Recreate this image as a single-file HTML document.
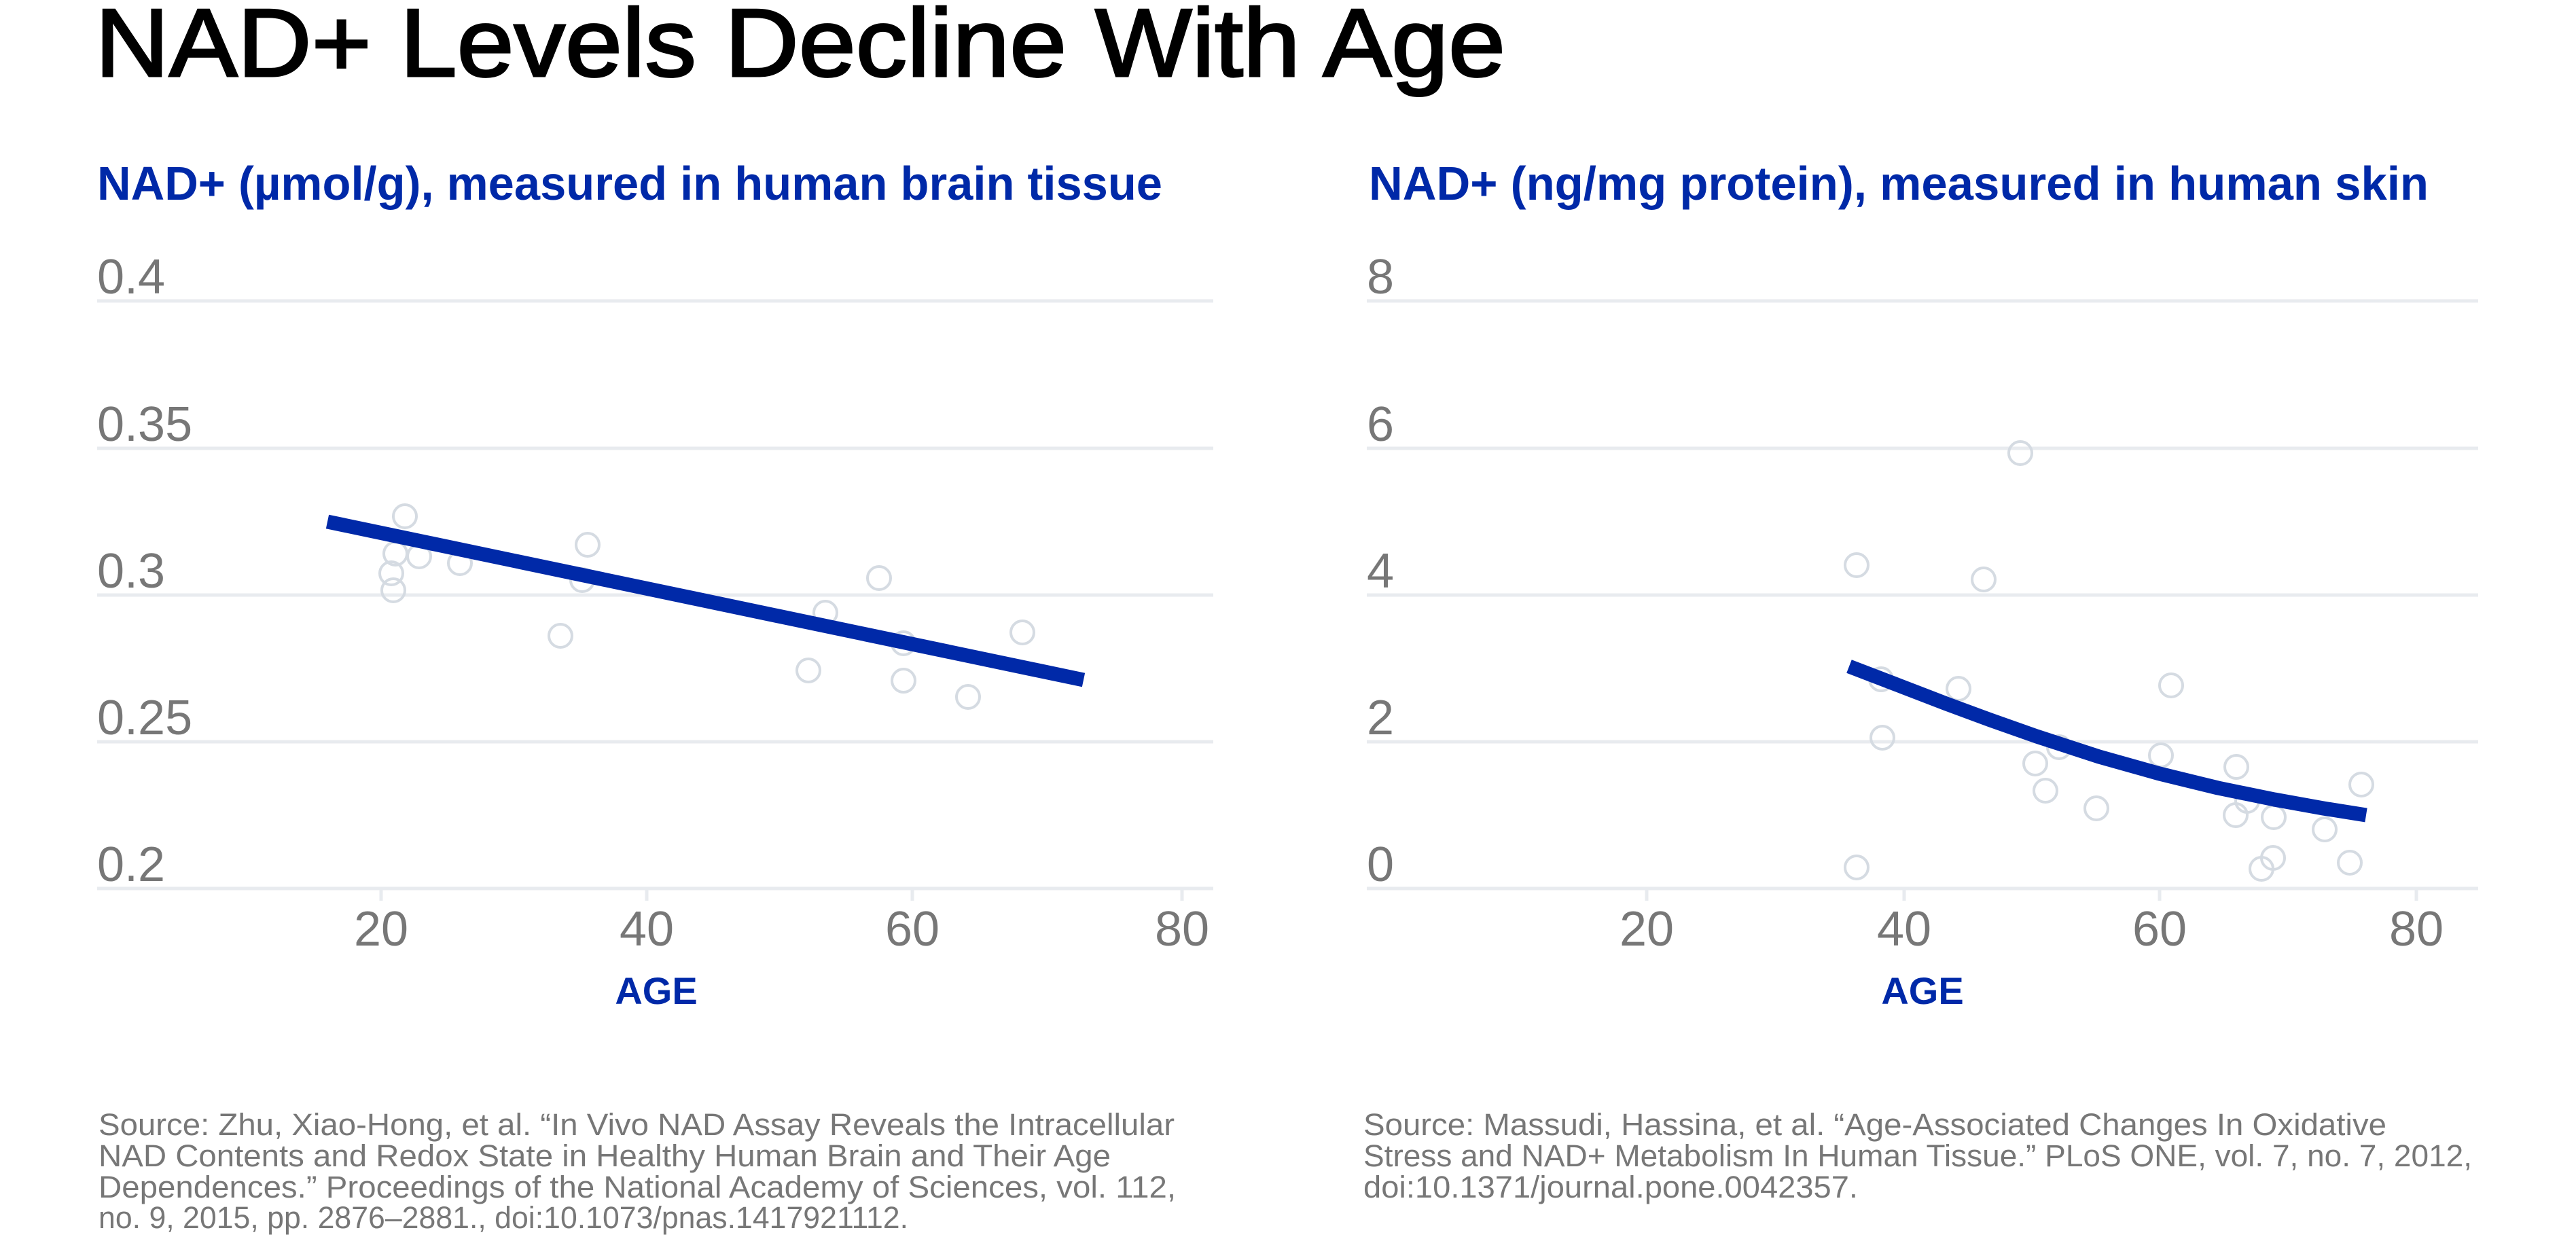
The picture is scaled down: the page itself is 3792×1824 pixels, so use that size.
<!DOCTYPE html>
<html><head><meta charset="utf-8"><style>html,body{margin:0;padding:0;background:#fff}svg{display:block}</style></head>
<body>
<svg width="3792" height="1824" viewBox="0 0 3792 1824" xmlns="http://www.w3.org/2000/svg" font-family="'Liberation Sans', sans-serif">
<rect width="3792" height="1824" fill="#fff"/>
<text x="140" y="112" font-size="142" fill="#000" stroke="#000" stroke-width="3" textLength="2076" lengthAdjust="spacingAndGlyphs">NAD+ Levels Decline With Age</text>
<text x="143" y="294" font-size="70" font-weight="bold" fill="#0029a8" textLength="1568" lengthAdjust="spacingAndGlyphs">NAD+ (µmol/g), measured in human brain tissue</text>
<text x="2015" y="294" font-size="70" font-weight="bold" fill="#0029a8" textLength="1560" lengthAdjust="spacingAndGlyphs">NAD+ (ng/mg protein), measured in human skin</text>
<g stroke="#e8ebef" stroke-width="5">
<line x1="143" x2="1786" y1="443" y2="443"/><line x1="143" x2="1786" y1="660" y2="660"/><line x1="143" x2="1786" y1="876" y2="876"/><line x1="143" x2="1786" y1="1092" y2="1092"/><line x1="143" x2="1786" y1="1308" y2="1308"/>
<line x1="2012" x2="3648" y1="443" y2="443"/><line x1="2012" x2="3648" y1="660" y2="660"/><line x1="2012" x2="3648" y1="876" y2="876"/><line x1="2012" x2="3648" y1="1092" y2="1092"/><line x1="2012" x2="3648" y1="1308" y2="1308"/>
<line x1="561" x2="561" y1="1308" y2="1326"/><line x1="952" x2="952" y1="1308" y2="1326"/><line x1="1343" x2="1343" y1="1308" y2="1326"/><line x1="1740" x2="1740" y1="1308" y2="1326"/>
<line x1="2424" x2="2424" y1="1308" y2="1326"/><line x1="2803" x2="2803" y1="1308" y2="1326"/><line x1="3179" x2="3179" y1="1308" y2="1326"/><line x1="3557" x2="3557" y1="1308" y2="1326"/>
</g>
<g font-size="72" fill="#777">
<text x="143" y="432">0.4</text><text x="143" y="649">0.35</text><text x="143" y="865">0.3</text><text x="143" y="1081">0.25</text><text x="143" y="1297">0.2</text>
<text x="2012" y="432">8</text><text x="2012" y="649">6</text><text x="2012" y="865">4</text><text x="2012" y="1081">2</text><text x="2012" y="1297">0</text>
<g text-anchor="middle">
<text x="561" y="1392">20</text><text x="952" y="1392">40</text><text x="1343" y="1392">60</text><text x="1740" y="1392">80</text>
<text x="2424" y="1392">20</text><text x="2803" y="1392">40</text><text x="3179" y="1392">60</text><text x="3557" y="1392">80</text>
</g></g>
<g font-size="56" font-weight="bold" fill="#0029a8" text-anchor="middle">
<text x="966" y="1478">AGE</text><text x="2830" y="1478">AGE</text>
</g>
<g fill="none" stroke="#d5dbe2" stroke-width="4">
<circle cx="596" cy="760" r="17"/><circle cx="582" cy="815" r="17"/><circle cx="617" cy="819" r="17"/><circle cx="576" cy="844" r="17"/><circle cx="579" cy="869" r="17"/><circle cx="677" cy="829" r="17"/><circle cx="865" cy="802" r="17"/><circle cx="857" cy="854" r="17"/><circle cx="825" cy="936" r="17"/><circle cx="1294" cy="851" r="17"/><circle cx="1215" cy="902" r="17"/><circle cx="1190" cy="987" r="17"/><circle cx="1330" cy="947" r="17"/><circle cx="1330" cy="1002" r="17"/><circle cx="1425" cy="1026" r="17"/><circle cx="1505" cy="931" r="17"/>
<circle cx="2733" cy="832" r="17"/><circle cx="2920" cy="853" r="17"/><circle cx="2974" cy="667" r="17"/><circle cx="2769" cy="1000" r="17"/><circle cx="2883" cy="1014" r="17"/><circle cx="2771" cy="1086" r="17"/><circle cx="3196" cy="1009" r="17"/><circle cx="2996" cy="1124" r="17"/><circle cx="3031" cy="1100" r="17"/><circle cx="3011" cy="1164" r="17"/><circle cx="3086" cy="1190" r="17"/><circle cx="3181" cy="1112" r="17"/><circle cx="3292" cy="1129" r="17"/><circle cx="3308" cy="1179" r="17"/><circle cx="3291" cy="1200" r="17"/><circle cx="3347" cy="1203" r="17"/><circle cx="3476" cy="1155" r="17"/><circle cx="3422" cy="1221" r="17"/><circle cx="3346" cy="1263" r="17"/><circle cx="3329" cy="1279" r="17"/><circle cx="3459" cy="1270" r="17"/><circle cx="2733" cy="1277" r="17"/>
</g>
<g fill="none" stroke="#0029a8" stroke-width="21" stroke-linejoin="round">
<line x1="482" y1="768" x2="1595" y2="1001"/>
<polyline points="2722,981 2795,1009 2865,1036 2930,1060 2998,1084 3090,1114 3179,1139 3265,1160 3348,1177 3420,1190 3483,1200"/>
</g>
<g font-size="45" fill="#777">
<text x="145" y="1671" textLength="1584" lengthAdjust="spacingAndGlyphs">Source: Zhu, Xiao-Hong, et al. “In Vivo NAD Assay Reveals the Intracellular</text>
<text x="145" y="1717" textLength="1490" lengthAdjust="spacingAndGlyphs">NAD Contents and Redox State in Healthy Human Brain and Their Age</text>
<text x="145" y="1763" textLength="1586" lengthAdjust="spacingAndGlyphs">Dependences.” Proceedings of the National Academy of Sciences, vol. 112,</text>
<text x="145" y="1808" textLength="1192" lengthAdjust="spacingAndGlyphs">no. 9, 2015, pp. 2876–2881., doi:10.1073/pnas.1417921112.</text>
<text x="2007" y="1671" textLength="1506" lengthAdjust="spacingAndGlyphs">Source: Massudi, Hassina, et al. “Age-Associated Changes In Oxidative</text>
<text x="2007" y="1717" textLength="1632" lengthAdjust="spacingAndGlyphs">Stress and NAD+ Metabolism In Human Tissue.” PLoS ONE, vol. 7, no. 7, 2012,</text>
<text x="2007" y="1763" textLength="728" lengthAdjust="spacingAndGlyphs">doi:10.1371/journal.pone.0042357.</text>
</g>
</svg>
</body></html>
